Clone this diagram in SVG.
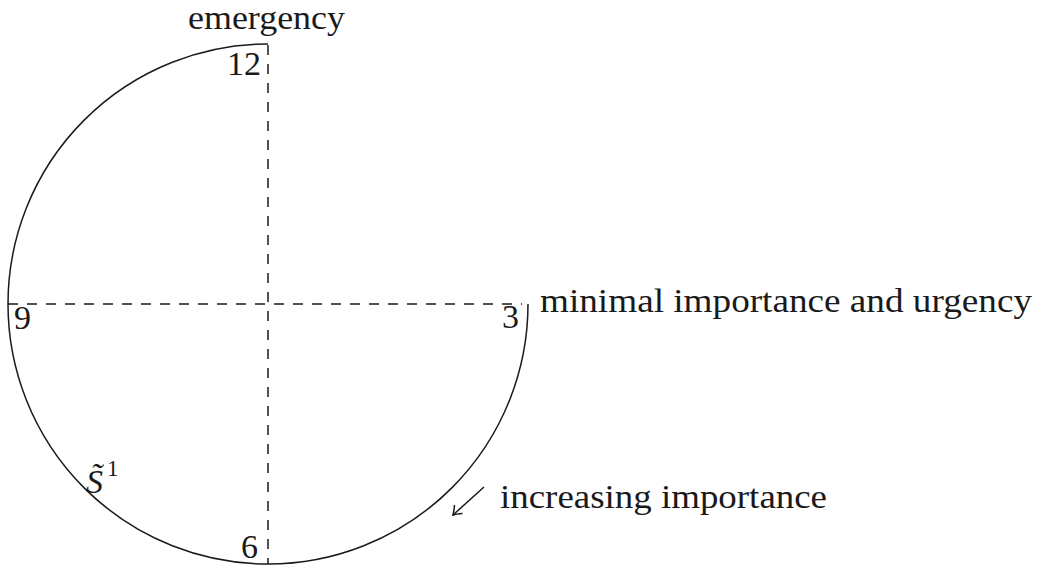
<svg xmlns="http://www.w3.org/2000/svg" width="1044" height="568" viewBox="0 0 1044 568">
<style>
text{font-family:'Liberation Serif','Times New Roman',Times,serif;font-size:34px;fill:#1a1a1a}
.ln{fill:none;stroke:#1a1a1a;stroke-width:1.5}
.dash{fill:none;stroke:#1a1a1a;stroke-width:1.5;stroke-dasharray:10 9}
.sup{font-size:23px}
.it{font-style:italic}
</style>
<rect width="1044" height="568" fill="#fff"/>
<g id="connectors">
<path id="axis-v" class="dash" d="M268 45 V564"/>
<path id="axis-h" class="dash" d="M8 304 H522"/>
<path id="arc" class="ln" d="M268 44 A260 260 0 1 0 528 304"/>
<g id="arrow">
<path class="ln" d="M484 487 L453 515"/>
<path class="ln" d="M462.5 513.5 Q456 514 453 515 Q454 511 454.5 505"/>
</g>
</g>
<g id="label-emergency"><text x="188" y="29" textLength="157" lengthAdjust="spacingAndGlyphs">emergency</text></g>
<g id="label-12"><text x="227" y="75">12</text></g>
<g id="label-9"><text x="14" y="329">9</text></g>
<g id="label-3"><text x="502" y="328">3</text></g>
<g id="label-6"><text x="241" y="558">6</text></g>
<g id="label-minimal"><text x="540" y="312" textLength="492" lengthAdjust="spacingAndGlyphs">minimal importance and urgency</text></g>
<g id="label-increasing"><text x="500" y="508" textLength="327" lengthAdjust="spacingAndGlyphs">increasing importance</text></g>
<g id="label-S"><text class="it" x="86" y="493">S̃<tspan class="sup" dx="4" dy="-17" font-style="normal">1</tspan></text></g>
</svg>
